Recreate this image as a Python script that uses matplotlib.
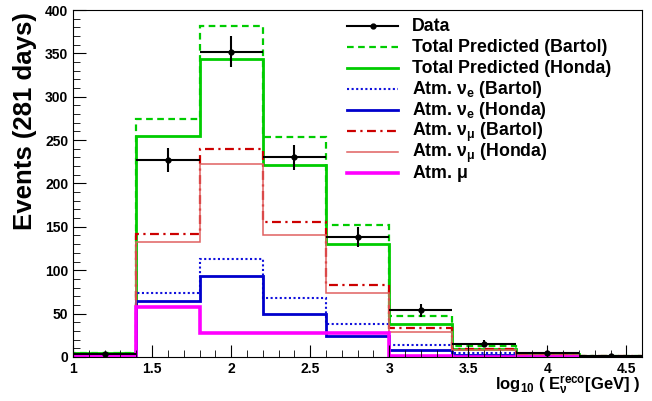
import numpy as np
import matplotlib
matplotlib.use("Agg")
import matplotlib.pyplot as plt
from matplotlib.lines import Line2D
from matplotlib.ticker import MultipleLocator

# log10(E_reco) bins
edges = [1.0, 1.4, 1.8, 2.2, 2.6, 3.0, 3.4, 3.8, 4.2, 4.6]

data = [3, 227, 352, 230, 138, 54, 15, 4.5, 1]
data_err = [1.7, 14, 18, 14, 11.5, 7.5, 4, 2, 1]

total_bartol = [4, 274, 382, 254, 152, 47, 12, 3.5, 1.5]
total_honda = [4, 255, 344, 221, 130, 38, 9, 3, 1.2]
nue_bartol = [1, 74, 113, 68, 38, 14, 4, 1, 0.4]
nue_honda = [1, 64, 93, 50, 24, 8, 2, 0.6, 0.2]
numu_bartol = [2, 142, 240, 155, 83, 33, 9, 2.5, 1]
numu_honda = [2, 133, 222, 140, 74, 29, 8, 2.2, 0.9]
atm_mu = [0.5, 58, 28, 28, 28, 0.5, 0.2, 0.1, 0.0]

plt.rcParams["font.family"] = "Liberation Sans"
plt.rcParams["font.weight"] = "bold"
plt.rcParams["mathtext.fontset"] = "custom"
plt.rcParams["mathtext.rm"] = "Liberation Sans:bold"
plt.rcParams["mathtext.it"] = "Liberation Sans:bold"
plt.rcParams["mathtext.bf"] = "Liberation Sans:bold"

W, H = 652, 401
fig = plt.figure(figsize=(W / 100, H / 100), dpi=100)
ax = fig.add_axes([0.112, 0.110, 0.873, 0.865])

styles = [
    (total_bartol, "Total Predicted (Bartol)", dict(color="#00cc00", lw=1.6, ls=(0, (3, 2)))),
    (total_honda, "Total Predicted (Honda)", dict(color="#00cc00", lw=2.0)),
    (nue_bartol, r"Atm. $\mathrm{\nu_e}$ (Bartol)", dict(color="#1010dd", lw=1.5, ls=(0, (1, 1.2)))),
    (nue_honda, r"Atm. $\mathrm{\nu_e}$ (Honda)", dict(color="#0000cc", lw=2.0)),
    (numu_bartol, r"Atm. $\mathrm{\nu_\mu}$ (Bartol)", dict(color="#cc0000", lw=1.6, ls=(0, (4, 2, 1, 2)))),
    (numu_honda, r"Atm. $\mathrm{\nu_\mu}$ (Honda)", dict(color="#e06060", lw=1.1)),
    (atm_mu, r"Atm. $\mathrm{\mu}$", dict(color="#ff00ff", lw=2.6)),
]
for vals, _, st in styles:
    ax.stairs(vals, edges, **st)

centers = [(a + b) / 2 for a, b in zip(edges[:-1], edges[1:])]
ax.errorbar(centers, data, yerr=data_err, xerr=0.2, fmt="o", color="black",
            ms=3.5, lw=1.5, capsize=0, zorder=5)

ax.set_xlim(1, 4.6)
ax.set_ylim(0, 400)
ax.xaxis.set_minor_locator(MultipleLocator(0.1))
ax.yaxis.set_major_locator(MultipleLocator(50))
ax.yaxis.set_minor_locator(MultipleLocator(10))
ax.tick_params(which="both", direction="in", top=False, right=False, labelsize=10)
ax.tick_params(which="major", length=9)
ax.tick_params(which="minor", length=5)
ax.set_xticks([1, 1.5, 2, 2.5, 3, 3.5, 4, 4.5])
ax.set_xticklabels(["1", "1.5", "2", "2.5", "3", "3.5", "4", "4.5"])
for lab in ax.get_xticklabels() + ax.get_yticklabels():
    lab.set_fontweight("bold")

ax.set_ylabel("Events (281 days)", fontsize=18.5, fontweight="bold", loc="top")
ax.yaxis.set_label_coords(-0.064, 0.995)
ax.set_xlabel(r"log$_{10}$ ( E$_{\nu}^{reco}$[GeV] )", fontsize=12, fontweight="bold")
ax.xaxis.set_label_coords(0.9965, -0.094)
ax.xaxis.label.set_ha("right")
ax.xaxis.label.set_va("baseline")

# legend drawn by hand so rows keep an even spacing like the ROOT original
entries = [("Data", dict(color="black", lw=1.5, marker="o", ms=3.5, markevery=[1]))]
entries += [(lab, st) for _, lab, st in styles]
x0, x1, xt = 347 / W, 398 / W, 412 / W
for i, (lab, st) in enumerate(entries):
    yc = 26 + 21 * i
    yf = 1 - yc / H
    fig.add_artist(Line2D([x0, (x0 + x1) / 2, x1], [yf] * 3, transform=fig.transFigure, **st))
    fig.text(xt, 1 - (yc + 5) / H, lab, fontsize=12.8, fontweight="bold", va="baseline")

fig.savefig("out.png", dpi=100)
